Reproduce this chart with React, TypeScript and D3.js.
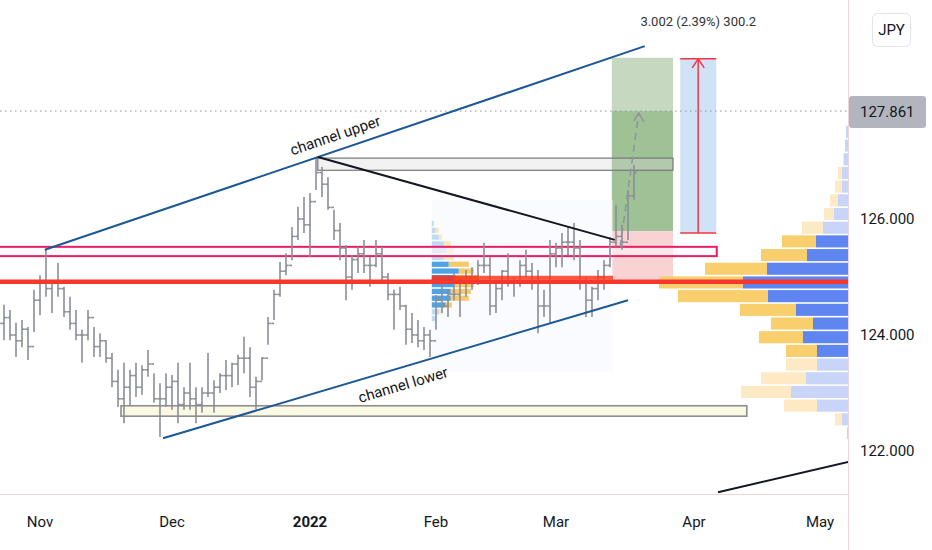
import React, { useEffect, useRef } from 'react'
import * as d3 from 'd3'

// daily bars from Oct 21 2021 (weekdays only)
const firstBarDate = new Date(2021, 9, 21)
const barHigh = [
  124.57, 124.52, 124.43, 124.21, 124.26, 124.14, 124.78, 125.03, 125.47, 124.95,
  125.24, 124.83, 124.66, 124.43, 124.09, 124.43, 124.14, 124.03, 123.91, 123.69,
  123.40, 123.52, 123.40, 123.52, 123.48, 123.74, 123.34, 123.17, 123.34, 123.31,
  123.52, 123.10, 123.52, 123.10, 123.10, 123.69, 123.22, 123.34, 123.57, 123.52,
  123.66, 123.97, 123.79, 123.28, 123.62, 124.31, 124.78, 125.26, 125.41, 125.86,
  126.21, 126.38, 126.45, 127.07, 126.90, 126.72, 126.16, 125.93, 125.55, 125.38,
  125.52, 125.64, 125.34, 125.64, 125.52, 125.07, 124.78, 124.83, 124.52, 124.38,
  124.26, 124.14, 124.09, 124.69, 124.95, 124.78, 125.07, 124.90, 125.12, 125.17,
  125.29, 125.59, 125.34, 124.90, 125.12, 125.41, 125.00, 125.29, 125.47, 125.24,
  125.12, 124.78, 125.64, 125.59, 125.76, 125.88, 125.93, 125.64, 125.00, 124.83,
  125.12, 125.29, 125.69, 126.24, 125.90, 126.50, 126.93,
]
const barLow = [
  123.86, 123.91, 123.91, 123.62, 123.79, 123.57, 124.05, 124.34, 124.66, 124.38,
  124.66, 124.31, 124.09, 123.91, 123.52, 123.91, 123.62, 123.62, 123.52, 123.10,
  122.76, 122.48, 122.79, 122.93, 122.97, 123.28, 122.83, 122.24, 122.76, 122.71,
  122.48, 122.71, 122.71, 122.48, 122.66, 122.93, 122.66, 123.00, 123.05, 123.10,
  123.14, 123.34, 122.93, 122.71, 123.22, 123.83, 124.26, 124.66, 125.03, 125.29,
  125.64, 125.76, 125.34, 126.50, 126.38, 126.16, 125.64, 125.29, 124.60, 124.78,
  125.07, 125.07, 124.83, 125.17, 124.95, 124.60, 124.09, 124.43, 123.83, 123.86,
  123.79, 123.74, 123.62, 124.09, 124.38, 124.31, 124.60, 124.31, 124.66, 124.78,
  124.86, 125.07, 124.34, 124.38, 124.60, 124.83, 124.66, 124.83, 125.00, 124.78,
  124.03, 124.31, 124.21, 125.17, 125.17, 125.38, 125.29, 124.78, 124.31, 124.31,
  124.60, 124.78, 125.17, 125.52, 125.47, 125.64, 126.33,
]
const barClose = [
  124.2, 124.3, 124.0, 123.9, 124.1, 123.8, 124.6, 124.9, 124.8, 124.9,
  124.8, 124.4, 124.2, 124.0, 124.0, 124.3, 123.8, 123.9, 123.6, 123.2,
  122.9, 123.1, 123.3, 123.1, 123.4, 123.5, 122.9, 122.9, 123.1, 123.2,
  122.8, 123.0, 122.9, 122.8, 123.0, 123.0, 123.1, 123.3, 123.3, 123.5,
  123.6, 123.6, 123.1, 123.2, 123.6, 124.2, 124.7, 125.1, 125.2, 125.7,
  126.0, 125.9, 126.3, 126.8, 126.6, 126.2, 125.8, 125.5, 125.0, 125.3,
  125.4, 125.2, 125.2, 125.4, 125.0, 124.7, 124.7, 124.5, 124.1, 124.0,
  123.9, 124.0, 123.9, 124.6, 124.5, 124.7, 124.7, 124.9, 125.0, 124.9,
  125.2, 125.2, 124.5, 124.8, 125.1, 124.9, 124.9, 125.2, 125.1, 124.9,
  124.5, 124.5, 125.4, 125.5, 125.6, 125.6, 125.5, 124.9, 124.6, 124.8,
  125.0, 125.2, 125.6, 125.7, 125.6, 126.4, 126.8,
]
const lastPrice = 127.861

const monthStarts = [
  new Date(2021, 10, 1), new Date(2021, 11, 1), new Date(2022, 0, 1),
  new Date(2022, 1, 1), new Date(2022, 2, 1), new Date(2022, 3, 1), new Date(2022, 4, 1),
]
const monthLabels = ['Nov', 'Dec', '2022', 'Feb', 'Mar', 'Apr', 'May']
const priceTicks = [122, 124, 126, 128]

// drawings, anchored in (bars from Nov 1, price)
const channelUpper = [{ bar: 0.8, price: 125.47 }, { bar: 100.8, price: 128.98 }]
const channelLower = [{ bar: 20.5, price: 122.22 }, { bar: 98, price: 124.6 }]
const trendLine = [{ bar: 46.3, price: 127.07 }, { bar: 95.8, price: 125.64 }]
const farLine = [{ bar: 113, price: 121.29 }, { bar: 140, price: 121.94 }]
const projection = [{ bar: 96.7, price: 125.52 }, { bar: 99.8, price: 127.83 }]
const grayZone = { from: 46.3, to: 105.5, top: 127.05, bottom: 126.84 }
const pinkZone = { from: -8, to: 112.8, top: 125.52, bottom: 125.36 }
const supportZone = { from: 13.5, to: 117.8, top: 122.78, bottom: 122.6 }
const redLevel = 124.92
const longPos = { from: 95.3, to: 105.5, target: 128.78, entry: 125.79, stop: 124.88 }
const measure = { from: 106.7, to: 112.7, low: 125.76, high: 128.762 }
const measureLabel = '3.002 (2.39%) 300.2'

// visible range volume profile (right side), rows from the top
const vpTop = 127.62
const vpStep = 0.236
const vpUp = [2, 3, 4, 6, 6, 10, 14, 25, 32, 41, 81, 105, 80, 52, 35, 45, 31, 31, 42, 57, 31, 6, 1]
const vpDown = [0, 0, 1, 4, 7, 8, 10, 21, 34, 46, 62, 84, 90, 56, 42, 44, 31, 31, 45, 50, 33, 7, 0]
const vpValueArea = [8, 16]

// fixed range volume profile
const fpRange = { from: 65.3, to: 95.5, top: 126.33, bottom: 123.36 }
const fpTop = 125.98
const fpStep = 0.117
const fpUp = [2, 4, 7, 12, 15, 12, 17, 27, 24, 22, 19, 19, 14, 7, 4]
const fpDown = [0, 3, 3, 7, 7, 10, 20, 15, 23, 20, 20, 18, 6, 3, 0]
const fpValueArea = [6, 12]
const fpPoc = 8

const FONT = 'Roboto, "Noto Sans", sans-serif'

export default function App() {
  const svgRef = useRef<SVGSVGElement>(null)

  useEffect(() => {
    if (!svgRef.current) return
    const svg = d3.select(svgRef.current)
    svg.selectAll('*').remove()

    const width = 932
    const height = 550
    const plotW = 848
    const plotH = 494

    // trading days, index relative to Nov 1
    const days = d3.timeDay
      .range(firstBarDate, new Date(2022, 5, 1))
      .filter(d => d.getDay() !== 0 && d.getDay() !== 6)
    const nov1 = days.findIndex(d => +d === +monthStarts[0])
    const barOf = (date: Date) => days.findIndex(d => d >= date) - nov1

    const x = d3.scaleLinear().domain([0, 130]).range([40, 820])
    const y = d3.scaleLinear().domain([122, 126]).range([451, 219])

    svg.append('rect').attr('width', width).attr('height', height).attr('fill', '#ffffff')

    svg.append('defs').append('clipPath').attr('id', 'plot')
      .append('rect').attr('width', plotW).attr('height', plotH)

    const g = svg.append('g').attr('clip-path', 'url(#plot)')

    const zone = (z: { from: number; to: number; top: number; bottom: number }) =>
      g.append('rect')
        .attr('x', x(z.from))
        .attr('y', y(z.top))
        .attr('width', x(z.to) - x(z.from))
        .attr('height', y(z.bottom) - y(z.top))

    const seg = d3.line<{ bar: number; price: number }>().x(d => x(d.bar)).y(d => y(d.price))

    // long position tool
    zone({ from: longPos.from, to: longPos.to, top: longPos.target, bottom: lastPrice }).attr('fill', '#c6d9c0')
    zone({ from: longPos.from, to: longPos.to, top: lastPrice, bottom: longPos.entry }).attr('fill', '#9fc196')
    zone({ from: longPos.from, to: longPos.to, top: longPos.entry, bottom: longPos.stop }).attr('fill', '#f9d3d3')

    // measure
    zone({ from: measure.from, to: measure.to, top: measure.high, bottom: measure.low }).attr('fill', '#d0e3f6')
    const mx = x((measure.from + measure.to) / 2)
    ;[measure.high, measure.low].forEach(p => {
      g.append('line')
        .attr('x1', x(measure.from)).attr('x2', x(measure.to))
        .attr('y1', y(p)).attr('y2', y(p))
        .attr('stroke', '#f23645').attr('stroke-width', 1.5)
    })
    g.append('line')
      .attr('x1', mx).attr('x2', mx)
      .attr('y1', y(measure.low)).attr('y2', y(measure.high))
      .attr('stroke', '#f23645').attr('stroke-width', 1.5)
    g.append('path')
      .attr('d', `M${mx - 6},${y(measure.high) + 9}L${mx},${y(measure.high)}L${mx + 6},${y(measure.high) + 9}`)
      .attr('fill', 'none').attr('stroke', '#f23645').attr('stroke-width', 1.5)

    // fixed range profile
    zone(fpRange).attr('fill', '#f3f6fc').attr('opacity', 0.45)
    const fpScale = d3.scaleLinear().domain([0, 47]).range([0, 47])
    fpUp.forEach((v, i) => {
      const top = fpTop - i * fpStep
      const y0 = y(top) + 0.8
      const h = y(top - fpStep) - y(top) - 1.6
      const solid = i >= fpValueArea[0] && i <= fpValueArea[1]
      const x0 = x(fpRange.from)
      g.append('rect').attr('x', x0).attr('y', y0).attr('width', fpScale(v)).attr('height', h)
        .attr('fill', i === fpPoc ? '#3f63ad' : solid ? '#4da3e8' : '#bddbf5')
      g.append('rect').attr('x', x0 + fpScale(v)).attr('y', y0).attr('width', fpScale(fpDown[i])).attr('height', h)
        .attr('fill', i === fpPoc ? '#f59a3a' : solid ? '#f6c96b' : '#fbe7bd')
    })

    // zones
    zone(grayZone).attr('fill', '#d9d9d9').attr('fill-opacity', 0.35).attr('stroke', '#777').attr('stroke-width', 1.2)
    zone(pinkZone).attr('fill', '#fff6f9').attr('fill-opacity', 0.6).attr('stroke', '#e91e63').attr('stroke-width', 2)
    zone(supportZone).attr('fill', '#fbf8e4').attr('stroke', '#8d8d8d').attr('stroke-width', 1.6)

    // price bars
    const bars = barHigh.map((h, i) => ({
      bar: barOf(firstBarDate) + i,
      high: h,
      low: barLow[i],
      open: i === 0 ? 124.4 : barClose[i - 1],
      close: barClose[i],
    }))
    const bg = g.append('g').attr('stroke', '#8b8e96').attr('stroke-width', 1.6)
    bars.forEach(b => {
      const bx = x(b.bar)
      bg.append('line').attr('x1', bx).attr('x2', bx).attr('y1', y(b.high)).attr('y2', y(b.low))
      bg.append('line').attr('x1', bx - 2.8).attr('x2', bx).attr('y1', y(b.open)).attr('y2', y(b.open))
      bg.append('line').attr('x1', bx).attr('x2', bx + 2.8).attr('y1', y(b.close)).attr('y2', y(b.close))
    })

    // visible range profile anchored on the price scale
    const vpScale = d3.scaleLinear().domain([0, 189]).range([0, 189])
    vpUp.forEach((v, i) => {
      const top = vpTop - i * vpStep
      const y0 = y(top) + 0.8
      const h = y(top - vpStep) - y(top) - 1.6
      const solid = i >= vpValueArea[0] && i <= vpValueArea[1]
      g.append('rect').attr('x', plotW - vpScale(v)).attr('y', y0).attr('width', vpScale(v)).attr('height', h)
        .attr('fill', solid ? '#5f86f0' : '#c8d5f8')
      g.append('rect').attr('x', plotW - vpScale(v) - vpScale(vpDown[i])).attr('y', y0)
        .attr('width', vpScale(vpDown[i])).attr('height', h)
        .attr('fill', solid ? '#f8cf6c' : '#fdeac4')
    })

    // key level
    g.append('line')
      .attr('x1', 0).attr('x2', plotW).attr('y1', y(redLevel)).attr('y2', y(redLevel))
      .attr('stroke', '#f5372c').attr('stroke-width', 4.5)
    const fpPocPrice = fpTop - fpPoc * fpStep - fpStep / 2
    g.append('line')
      .attr('x1', x(fpRange.from)).attr('x2', x(fpRange.to))
      .attr('y1', y(fpPocPrice)).attr('y2', y(fpPocPrice))
      .attr('stroke', '#ff3b1f').attr('stroke-width', 4).attr('opacity', 0.85)

    // last price line
    g.append('line')
      .attr('x1', 0).attr('x2', plotW).attr('y1', y(lastPrice)).attr('y2', y(lastPrice))
      .attr('stroke', '#8f939c').attr('stroke-width', 1).attr('stroke-dasharray', '1.5,3.5')

    // trend lines
    ;[channelUpper, channelLower].forEach(pts => {
      g.append('path').attr('d', seg(pts)).attr('stroke', '#1c5896').attr('stroke-width', 2).attr('fill', 'none')
    })
    ;[trendLine, farLine].forEach(pts => {
      g.append('path').attr('d', seg(pts)).attr('stroke', '#131722').attr('stroke-width', 2).attr('fill', 'none')
    })

    // projection arrow
    g.append('path').attr('d', seg(projection))
      .attr('stroke', '#8f939c').attr('stroke-width', 1.5).attr('stroke-dasharray', '7,5').attr('fill', 'none')
    const ax = x(projection[1].bar)
    const ay = y(projection[1].price)
    g.append('path').attr('d', `M${ax - 5},${ay + 8}L${ax},${ay}L${ax + 5},${ay + 9}`)
      .attr('stroke', '#8f939c').attr('stroke-width', 1.5).attr('fill', 'none')

    // channel labels
    const label = (pts: { bar: number; price: number }[], at: number, offset: number, text: string) => {
      const x1 = x(pts[0].bar), y1 = y(pts[0].price), x2 = x(pts[1].bar), y2 = y(pts[1].price)
      const ang = Math.atan2(y2 - y1, x2 - x1)
      const px = x(at)
      const py = y1 + (px - x1) * (y2 - y1) / (x2 - x1)
      const nx = Math.sin(ang) * offset
      const ny = -Math.cos(ang) * offset
      g.append('text')
        .attr('transform', `translate(${px + nx},${py + ny}) rotate(${(ang * 180) / Math.PI})`)
        .attr('text-anchor', 'middle')
        .attr('dy', '0.35em')
        .style('font-family', FONT)
        .style('font-size', '15px')
        .attr('fill', '#131722')
        .text(text)
    }
    label(channelUpper, 50, 15, 'channel upper')
    label(channelLower, 59.7, -17, 'channel lower')

    // measure label
    svg.append('text')
      .attr('x', mx).attr('y', 26)
      .attr('text-anchor', 'middle')
      .style('font-family', FONT).style('font-size', '13px')
      .attr('fill', '#333')
      .text(measureLabel)

    // axes frame
    svg.append('line').attr('x1', plotW + 0.5).attr('x2', plotW + 0.5).attr('y1', 0).attr('y2', height)
      .attr('stroke', '#f3d3d6')
    svg.append('line').attr('x1', 0).attr('x2', plotW).attr('y1', plotH + 0.5).attr('y2', plotH + 0.5)
      .attr('stroke', '#f3d3d6')

    // price scale (the top tick hides behind the last price label)
    priceTicks.forEach(p => {
      svg.append('text')
        .attr('x', 860).attr('y', y(p)).attr('dy', '0.35em')
        .style('font-family', FONT).style('font-size', '15px')
        .attr('fill', '#131722')
        .text(d3.format('.3f')(p))
    })
    const ly = y(lastPrice)
    svg.append('rect')
      .attr('x', plotW + 1).attr('y', ly - 15).attr('width', 77).attr('height', 32).attr('rx', 3)
      .attr('fill', '#b2b5be')
    svg.append('text')
      .attr('x', 860).attr('y', ly + 1).attr('dy', '0.35em')
      .style('font-family', FONT).style('font-size', '15px')
      .attr('fill', '#131722')
      .text(d3.format('.3f')(lastPrice))

    // currency button
    svg.append('rect')
      .attr('x', 872.5).attr('y', 13.5).attr('width', 38).attr('height', 33).attr('rx', 5)
      .attr('fill', '#fff').attr('stroke', '#e0e3eb')
    svg.append('text')
      .attr('x', 891.5).attr('y', 30).attr('dy', '0.35em').attr('text-anchor', 'middle')
      .style('font-family', FONT).style('font-size', '15px')
      .attr('fill', '#131722')
      .text('JPY')

    // time scale
    monthStarts.forEach((m, i) => {
      svg.append('text')
        .attr('x', x(barOf(m))).attr('y', 522).attr('dy', '0.35em')
        .attr('text-anchor', 'middle')
        .style('font-family', FONT).style('font-size', '15px')
        .style('font-weight', monthLabels[i] === '2022' ? 'bold' : 'normal')
        .attr('fill', '#131722')
        .text(monthLabels[i])
    })
  }, [])

  return (
    <svg
      ref={svgRef}
      width={932}
      height={550}
      style={{ position: 'absolute', left: 0, top: 0, display: 'block' }}
    />
  )
}
